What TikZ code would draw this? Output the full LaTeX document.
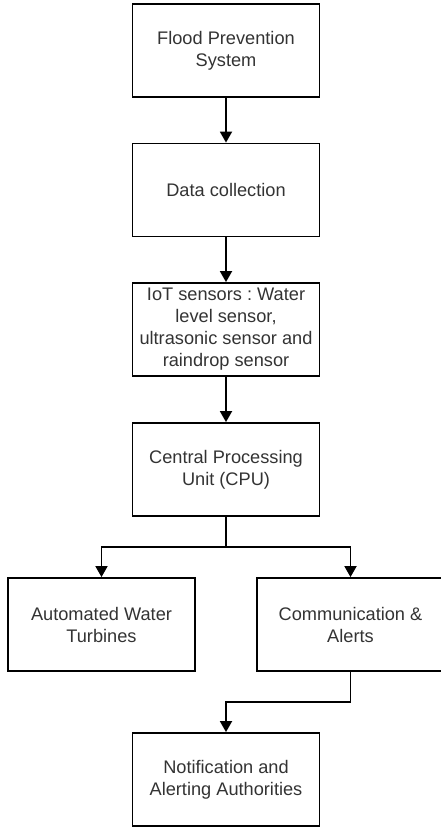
\documentclass[tikz,border=0pt]{standalone}
\usepackage{fontspec}
\setmainfont{Liberation Sans}
\usetikzlibrary{arrows.meta}
\definecolor{txt}{HTML}{333333}
\tikzset{
  stepbox/.style={draw=black, line width=1.8pt, minimum width=187pt, minimum height=93pt,
    inner sep=0pt, align=center, text=txt,
    font=\fontsize{18.2pt}{22pt}\selectfont\frenchspacing},
  flow/.style={line width=1.8pt, -{Triangle[length=11pt,width=12pt]}}
}
\begin{document}
\begin{tikzpicture}[x=1pt,y=-1pt]
  \useasboundingbox (0,0) rectangle (441,834);
  \clip (0,0) rectangle (441,834);
  \node[stepbox] (fps)  at (226,50.8)  {Flood Prevention\\System};
  \node[stepbox] (dc)   at (226,190)   {Data collection};
  \node[stepbox] (iot)  at (226,329.5) {IoT sensors : Water\\level sensor,\\ultrasonic sensor and\\raindrop sensor};
  \node[stepbox] (cpu)  at (226,469.5) {Central Processing\\Unit (CPU)};
  \node[stepbox] (awt)  at (101.5,624.5) {Automated Water\\Turbines};
  \node[stepbox] (comm) at (350.5,624.5) {Communication \&\\Alerts};
  \node[stepbox] (notif) at (226,779.5) {Notification and\\Alerting Authorities};

  \draw[flow] (fps) -- (dc);
  \draw[flow] (dc) -- (iot);
  \draw[flow] (iot) -- (cpu);
  \coordinate (split) at (226,546.7);
  \draw[line width=1.8pt] (cpu.south) -- (split);
  \draw[flow] (split) -| (awt.north);
  \draw[flow] (split) -| (comm.north);
  \coordinate (bend) at (350.5,701.7);
  \draw[flow] (comm.south) -- (bend) -| (notif.north);
\end{tikzpicture}
\end{document}
